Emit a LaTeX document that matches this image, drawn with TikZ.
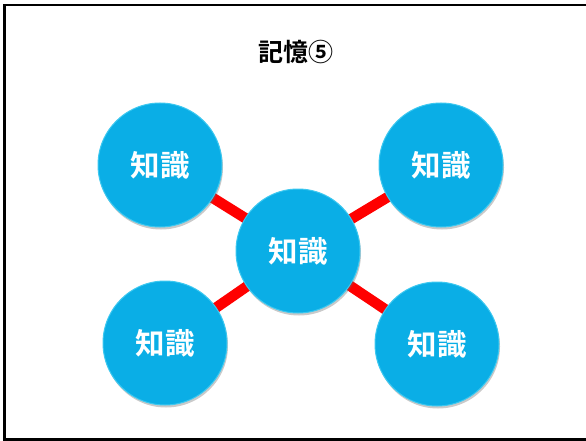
\documentclass[tikz,border=0pt]{standalone}
\usepackage{fontspec}
\newfontfamily\jpfont{Noto Sans CJK JP}[BoldFont={* Bold}]
\usepackage{tikz}
\usetikzlibrary{shadows,backgrounds}

\definecolor{knowblue}{RGB}{10,174,230}
\definecolor{knowrim}{RGB}{60,200,240}

\begin{document}
\begin{tikzpicture}[
		x=1pt, y=-1pt,
		knode/.style={circle, fill=knowblue, draw=knowrim, line width=1pt, minimum size=124pt, inner sep=0pt,
			drop shadow={shadow xshift=1pt, shadow yshift=-2.5pt, opacity=0.35, fill=black!60},
			text=white, font=\jpfont\bfseries\fontsize{29.5}{29.5}\selectfont},
		link/.style={draw=red, line width=10.5pt}
	]
		\useasboundingbox (0,0) rectangle (586,441);
		\draw[line width=2.5pt] (590,5) -- (4.5,5) -- (4.5,439.5) -- (590,439.5);
		\node[font=\jpfont\bfseries\fontsize{25}{25}\selectfont] at (296,52)(title){記憶⑤};
		
		\node[knode] at (298,251)(center){知識};
		\node[knode] at (160,165)(tl){知識};
		\node[knode] at (441,165)(tr){知識};
		\node[knode] at (165,343)(bl){知識};
		\node[knode] at (437,344)(br){知識};
		
		\begin{scope}[on background layer]
		\draw[link](center.center) -- (tl.center);
		\draw[link](center.center) -- (tr.center);
		\draw[link](center.center) -- (bl.center);
		\draw[link](center.center) -- (br.center);
		\end{scope}
	\end{tikzpicture}
\end{document}
